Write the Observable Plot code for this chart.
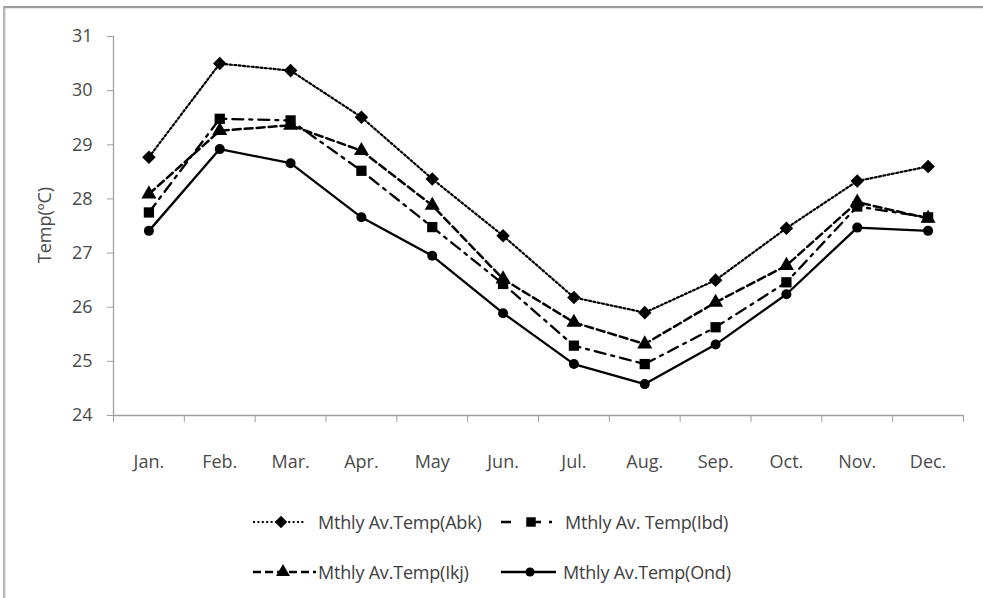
<!DOCTYPE html>
<html>
<head>
<meta charset="utf-8">
<script src="https://cdn.jsdelivr.net/npm/d3@7"></script>
<script src="https://cdn.jsdelivr.net/npm/@observablehq/plot@0.6"></script>
<style>
  html, body { margin: 0; padding: 0; background: #fff; }
  #wrap { position: relative; width: 983px; height: 598px; overflow: hidden; font-family: 'Open Sans', sans-serif; }
  #frame { position: absolute; left: 3px; top: 6px; width: 990px; height: 600px; border-top: 2px solid #9c9c9c; border-left: 2px solid #b5b5b5; box-shadow: inset 1px 1px 2px #e6e6e6; pointer-events: none; }
  #plot { position: absolute; left: 0; top: 0; }
  #plot svg [aria-label="y-axis"] .tick line, #plot svg [aria-label="x-axis"] .tick line { stroke: #a0a0a0; }
  #plot svg [aria-label="y-axis tick"] path, #plot svg [aria-label="x-axis tick"] path { stroke: #a0a0a0; }
  #ylabel { position: absolute; left: 44px; top: 225px; transform: translate(-50%, -50%) rotate(-90deg); font-size: 18px; color: #4a4a4a; white-space: nowrap; }
  .leg { position: absolute; display: flex; align-items: center; font-size: 18px; letter-spacing: -0.2px; color: #404040; white-space: nowrap; }
  .leg svg { display: block; }
</style>
</head>
<body>
<div id="wrap">
  <div id="plot"></div>
  <div id="ylabel">Temp(ºC)</div>
  <div id="legend"></div>
  <div id="frame"></div>
</div>
<script>
const months = ["Jan.", "Feb.", "Mar.", "Apr.", "May", "Jun.", "Jul.", "Aug.", "Sep.", "Oct.", "Nov.", "Dec."];
const yTicks = [24, 25, 26, 27, 28, 29, 30, 31];
const seriesNames = ["Mthly Av.Temp(Abk)", "Mthly Av. Temp(Ibd)", "Mthly Av.Temp(Ikj)", "Mthly Av.Temp(Ond)"];
const abk = [28.77, 30.50, 30.37, 29.51, 28.37, 27.32, 26.18, 25.90, 26.50, 27.46, 28.33, 28.60];
const ibd = [27.75, 29.48, 29.45, 28.52, 27.48, 26.43, 25.29, 24.95, 25.63, 26.46, 27.86, 27.66];
const ikj = [28.09, 29.26, 29.36, 28.89, 27.88, 26.52, 25.72, 25.32, 26.09, 26.77, 27.94, 27.64];
const ond = [27.41, 28.92, 28.66, 27.66, 26.95, 25.89, 24.95, 24.58, 25.31, 26.24, 27.47, 27.41];

// rotated-square diamond (as in the reference)
const symbolRhombus = {
  draw(context, size) {
    const h = Math.sqrt(size / 2);
    context.moveTo(0, -h);
    context.lineTo(h, 0);
    context.lineTo(0, h);
    context.lineTo(-h, 0);
    context.closePath();
  }
};

const series = [
  {name: seriesNames[0], values: abk, dash: "2,2.4", width: 2.2, symbol: symbolRhombus, r: 5.4},
  {name: seriesNames[1], values: ibd, dash: "11,6,3,6", width: 2.3, symbol: d3.symbolSquare, r: 5.8},
  {name: seriesNames[2], values: ikj, dash: "8,4", width: 2.5, symbol: d3.symbolTriangle, r: 5.6},
  {name: seriesNames[3], values: ond, dash: null, width: 2.3, symbol: d3.symbolCircle, r: 5}
];

const idx = months.map((m, i) => i + 1);
const bounds = d3.range(0.5, 12.6, 1);

const marks = [
  Plot.ruleY([24], {stroke: "#a0a0a0", strokeWidth: 1.3}),
  Plot.ruleX([0.5], {stroke: "#a0a0a0", strokeWidth: 1.3}),
  Plot.text(months, {x: (d, i) => i + 1, y: () => 24, dy: 47, text: d => d, fill: "#4a4a4a", fontSize: 18})
];
for (const s of series) {
  const rows = s.values.map((v, i) => ({x: idx[i], y: v}));
  marks.push(Plot.line(rows, {x: "x", y: "y", stroke: "black", strokeWidth: s.width, strokeDasharray: s.dash || undefined}));
  marks.push(Plot.dot(rows, {x: "x", y: "y", symbol: s.symbol, r: s.r, fill: "black", stroke: "none"}));
}

const chart = Plot.plot({
  width: 983,
  height: 490,
  marginTop: 36,
  marginBottom: 75,
  marginLeft: 113,
  marginRight: 20,
  style: {fontFamily: "'Open Sans', sans-serif", fontSize: "18px", color: "#4a4a4a", background: "transparent", overflow: "visible"},
  x: {type: "linear", domain: [0.5, 12.5], ticks: bounds, tickFormat: () => "", tickSize: 7, label: null},
  y: {domain: [24, 31], ticks: yTicks, tickSize: 6, tickPadding: 15, label: null, tickFormat: d3.format("d")},
  marks
});
document.getElementById("plot").appendChild(chart);

// Legend
const legend = document.getElementById("legend");
const legPos = [
  {left: 252, top: 510, w: 56, lineEnd: 53, symX: 29, textGap: 10},
  {left: 500, top: 510, w: 52, lineEnd: 52, symX: 31, textGap: 13},
  {left: 252, top: 560, w: 64, lineEnd: 64, symX: 31, textGap: 2},
  {left: 500, top: 560, w: 58, lineEnd: 56, symX: 30, textGap: 5}
];
const ns = "http://www.w3.org/2000/svg";
series.forEach((s, i) => {
  const p = legPos[i];
  const div = document.createElement("div");
  div.className = "leg";
  div.style.left = p.left + "px";
  div.style.top = p.top + "px";
  div.style.height = "24px";
  const svg = document.createElementNS(ns, "svg");
  svg.setAttribute("width", p.w);
  svg.setAttribute("height", 24);
  const line = document.createElementNS(ns, "line");
  line.setAttribute("x1", 1); line.setAttribute("x2", p.lineEnd);
  line.setAttribute("y1", 12); line.setAttribute("y2", 12);
  line.setAttribute("stroke", "black");
  line.setAttribute("stroke-width", s.width);
  if (s.dash) line.setAttribute("stroke-dasharray", i === 1 ? "10,16,14,8" : s.dash);
  svg.appendChild(line);
  const path = document.createElementNS(ns, "path");
  path.setAttribute("d", d3.symbol(s.symbol, Math.PI * s.r * s.r * 0.85)());
  path.setAttribute("transform", `translate(${p.symX},12)`);
  path.setAttribute("fill", "black");
  svg.appendChild(path);
  div.appendChild(svg);
  const span = document.createElement("span");
  span.textContent = s.name;
  span.style.marginLeft = p.textGap + "px";
  div.appendChild(span);
  legend.appendChild(div);
});
</script>
</body>
</html>
